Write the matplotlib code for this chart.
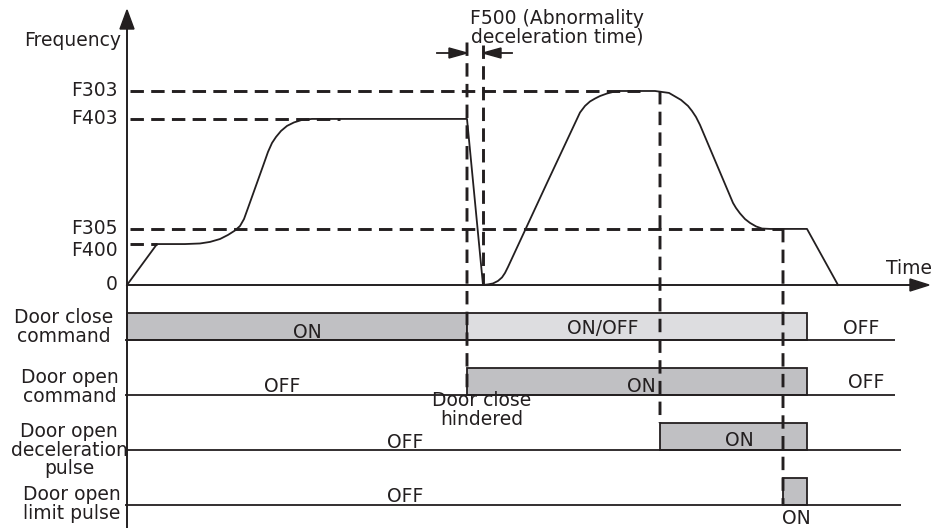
import matplotlib
matplotlib.use("Agg")
import matplotlib.pyplot as plt
from matplotlib.patches import Polygon, ConnectionPatch

plt.rcParams['font.family'] = ['DejaVu Sans']

# ---------------- data ----------------
# frequency levels (percent of F303)
level_names = ["F303", "F403", "F305", "F400"]
level_values = [100.0, 85.6, 28.9, 21.1]
level_dash_end = [513, 213, 656, 30]          # time where each dashed guide ends

# frequency curve (time units, frequency %)
curve_t = [0, 30, 58, 73, 83, 93, 101, 108, 113, 117, 121, 126, 131, 136, 141, 145,
           149, 154, 160, 167, 175, 185,
           340, 356, 361, 366, 371, 375, 378, 381, 420, 453, 458, 463, 468,
           473, 480, 486, 493, 513, 528, 542, 554, 561, 565, 569, 573,
           606, 609, 613, 618, 623, 629, 635, 643, 680, 711]
curve_f = [0, 21.1, 21.1, 21.4, 22.2, 23.7, 25.8, 28.1, 30.4, 34.0, 39.7, 46.9,
           54.1, 61.3, 68.6, 73.2, 76.3, 79.4, 82.0, 83.8, 85.1, 85.6,
           85.6, 0, 0.3, 0.8, 2.1, 3.9, 6.2, 9.3, 52.6, 88.9, 92.3, 94.6, 96.1,
           97.4, 98.7, 99.5, 100, 100, 100, 99.0, 95.4, 92.3, 89.7, 86.6, 82.5,
           42.3, 39.7, 36.9, 34.0, 32.0, 30.2, 29.1, 28.9, 28.9, 0]

# events (time units)
T_HINDER = 340
T_STOP = 356
T_DECEL = 533
T_LIMIT = 656
T_END = 680

# signal rows
row_labels = ["Door close\ncommand", "Door open\ncommand",
              "Door open\ndeceleration\npulse", "Door open\nlimit pulse"]
row_line_end = [768, 768, 774, 774]
# bars: (row, start, end, shade)
bar_rows = [0, 0, 1, 2, 3]
bar_start = [0, T_HINDER, T_HINDER, T_DECEL, T_LIMIT]
bar_end = [T_HINDER, T_END, T_END, T_END, T_END]
bar_shade = ["dark", "light", "dark", "dark", "dark"]

# ---------------- style ----------------
INK = "#231f20"
DARK = "#c0c0c3"
LIGHT = "#dddde0"
FS = 13.5
DASH = (0, (4.6, 2.5))
DLW = 2.1
BAR_H = 0.49

fig = plt.figure(figsize=(9.34, 5.28), dpi=100)
axf = fig.add_axes([0, 0, 1, 1])
axf.set_xlim(-127, 807)
axf.set_ylim(-125.26, 146.9)
axf.axis("off")

axs = fig.add_axes([0, 0, 1, 1])
axs.set_xlim(-127, 807)
axs.set_ylim(-3.418, 6.182)
axs.axis("off")
axs.patch.set_alpha(0)

ov = fig.add_axes([0, 0, 1, 1])
ov.set_xlim(0, 934)
ov.set_ylim(528, 0)
ov.axis("off")
ov.patch.set_alpha(0)

# axes with arrows
ov.plot([127, 127], [528, 27], color=INK, lw=1.4, solid_capstyle="butt")
ov.add_patch(Polygon([(120, 29), (134, 29), (127, 10)], closed=True, color=INK))
ov.plot([127, 912], [285, 285], color=INK, lw=1.4, solid_capstyle="butt")
ov.add_patch(Polygon([(910, 279), (910, 291), (929, 285)], closed=True, color=INK))

# dashed level guides and labels
for name, val, tend in zip(level_names, level_values, level_dash_end):
    axf.plot([3, tend], [val, val], color=INK, lw=DLW, linestyle=DASH, dash_capstyle="butt")
    dy = -6 if name == "F400" else 0
    axf.annotate(name, xy=(-9, val), xytext=(0, dy), textcoords="offset pixels",
                 ha="right", va="center", fontsize=FS, color=INK)
axf.annotate("0", xy=(-9, 0), ha="right", va="center", fontsize=FS, color=INK)

# frequency curve
axf.plot(curve_t, curve_f, color=INK, lw=1.3, solid_joinstyle="round")

# signal rows
for k, end in enumerate(row_line_end):
    axs.plot([-2, end], [-k, -k], color=INK, lw=1.3, solid_capstyle="butt")
for r, s, e, sh in zip(bar_rows, bar_start, bar_end, bar_shade):
    axs.bar(s, BAR_H, width=e - s, bottom=-r, align="edge",
            color=DARK if sh == "dark" else LIGHT, edgecolor=INK, linewidth=1.3)

# vertical dashed event lines spanning both panels
def vline(t, fa, yb):
    cp = ConnectionPatch(xyA=(t, fa), coordsA=axf.transData,
                         xyB=(t, yb), coordsB=axs.transData,
                         color=INK, lw=DLW, linestyle=DASH, capstyle="butt")
    fig.add_artist(cp)

vline(T_HINDER, 125, -1)
vline(T_DECEL, 100, -2 + BAR_H)
vline(T_LIMIT, 28.9, -3)
axf.plot([T_STOP, T_STOP], [123.5, 0], color=INK, lw=DLW, linestyle=DASH, dash_capstyle="butt")

# F500 arrows
ov.plot([437, 452], [53, 53], color=INK, lw=1.3)
ov.add_patch(Polygon([(449, 48), (449, 58), (467, 53)], closed=True, color=INK))
ov.plot([498, 512], [53, 53], color=INK, lw=1.3)
ov.add_patch(Polygon([(501, 48), (501, 58), (483, 53)], closed=True, color=INK))

def T(x, y, s, ha="center", **kw):
    ov.text(x, y, s, ha=ha, va="center", fontsize=FS, color=INK,
            multialignment="center", linespacing=0.98, **kw)

T(557, 28, "F500 (Abnormality\ndeceleration time)")
T(73, 41, "Frequency")
T(932, 268, "Time", ha="right")

# row labels
label_pos = [(64, 327), (70, 387), (69, 450), (72, 504)]
for (x, y), s in zip(label_pos, row_labels):
    T(x, y, s)

# state texts
T(307, 332, "ON")
T(603, 329, "ON/OFF")
T(861, 328, "OFF")
T(282, 387, "OFF")
T(641, 386, "ON")
T(866, 383, "OFF")
T(482, 410, "Door close\nhindered")
T(405, 442, "OFF")
T(739, 441, "ON")
T(405, 497, "OFF")
T(796, 518, "ON")

fig.savefig("out.png", dpi=100)
